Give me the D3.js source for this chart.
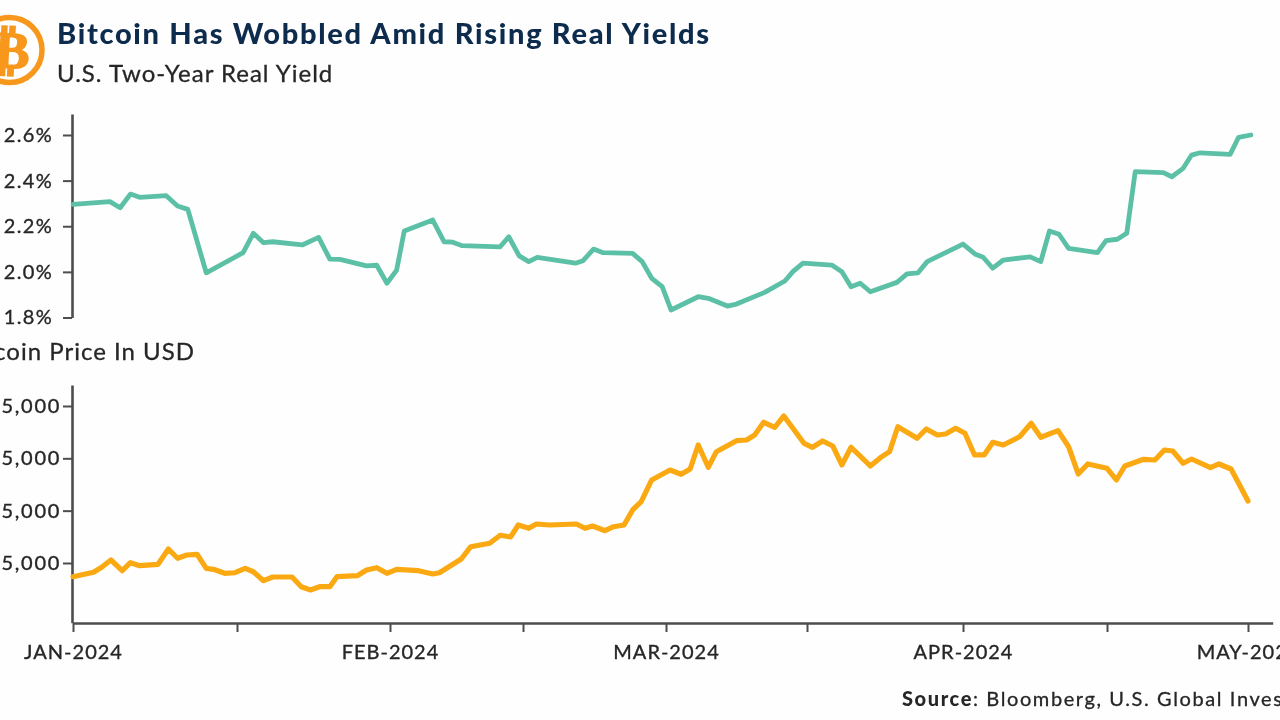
<!DOCTYPE html>
<html><head><meta charset="utf-8">
<style>
html,body{margin:0;padding:0;background:#fefefe;overflow:hidden}
svg{display:block;filter:blur(0.5px)}
text{font-family:Lato,"Open Sans",sans-serif}
</style>
<script src="https://cdn.jsdelivr.net/npm/d3@7"></script>
</head><body>
<svg id="c" width="1280" height="720"></svg>
<script>
// Days since 1 Jan 2024
const axisDays = [0,16,31,45,60,74,91,106,121];
const axisLabels = {0:"JAN-2024",31:"FEB-2024",60:"MAR-2024",91:"APR-2024",121:"MAY-2024"};
const yieldTicks = [1.8,2.0,2.2,2.4,2.6];
const btcTicks = [45000,55000,65000,75000];

const yieldDays = [0,3.6,4.6,5.6,6.5,9.1,10.2,11.2,13,16.6,17.6,18.6,19.5,22.4,24,25.1,26.1,28.7,29.7,30.7,31.7,32.5,35.5,36.7,37.6,38.6,42.6,43.5,44.6,45.6,46.5,50.5,51.3,52.4,53.4,56.5,57.5,58.5,59.6,60.5,63.2,64.2,66.1,67,69.8,71.8,72.6,73.6,76.7,77.8,78.8,79.8,80.9,83.8,84.9,86.1,87.1,91,92.3,93.1,94.1,95.2,98,99.1,100,101,102,105,105.9,107.1,108.1,109,112,112.9,114.1,115,115.9,119.1,120,121.3];
const yieldValues = [2.296,2.308,2.281,2.341,2.327,2.334,2.289,2.274,1.996,2.084,2.169,2.128,2.132,2.118,2.151,2.056,2.055,2.026,2.029,1.950,2.008,2.179,2.227,2.132,2.130,2.115,2.110,2.154,2.070,2.045,2.064,2.038,2.049,2.100,2.084,2.081,2.045,1.972,1.935,1.833,1.891,1.884,1.850,1.859,1.910,1.960,2.001,2.038,2.030,2.001,1.935,1.950,1.913,1.954,1.991,1.996,2.045,2.122,2.077,2.064,2.016,2.052,2.066,2.045,2.179,2.165,2.103,2.084,2.137,2.143,2.169,2.439,2.435,2.417,2.454,2.512,2.522,2.515,2.590,2.600];

const btcDays = [0,2,2.8,3.7,4.8,5.6,6.5,8.3,9.3,10.2,11.1,12.1,13,13.7,14.8,15.8,16.8,17.6,18.6,19.5,21.4,22.3,23.2,24.1,25.1,25.8,27.8,28.7,29.7,30.7,31.7,34,35.5,36.2,38.5,39.5,41.5,42.6,43.7,44.5,45.6,46.4,47.8,50.6,51.5,52.3,53.6,54.5,55.6,56.5,57.4,58.5,60.4,61.5,62.4,63.2,64.2,65,67,68,68.8,69.7,70.8,71.7,73.7,74.6,75.7,76.8,77.8,78.8,79.8,80.9,82,83,83.9,86,87,88.2,89.1,90.2,91.2,92.2,93.2,94.1,95.2,96.9,98.1,99.1,100.9,102,103,104,106,107,107.9,109.9,111.1,112.1,113,114.1,115,117,117.9,119.2,121];
const btcValues = [42380,43220,44180,45570,43530,45050,44480,44750,47670,45900,46530,46660,43980,43790,43030,43140,43980,43330,41620,42320,42320,40470,39840,40470,40470,42380,42570,43660,44100,43030,43790,43530,42900,43140,45760,48110,48760,50290,49970,52260,51630,52450,52260,52450,51630,52070,51170,51930,52260,55130,56710,60860,62770,61950,62960,67550,63290,66270,68370,68500,69460,71890,70930,73090,67870,67110,68310,67360,63730,67110,65440,63530,65120,66270,71040,68830,70600,69460,69650,70740,69780,65640,65640,68060,67550,69130,71690,69020,70280,67220,62010,63920,63090,60860,63530,64810,64680,66590,66400,64050,64870,63210,63920,62960,56850];

const TEAL="#5cc0a6", ORANGE="#fba912", AXIS="#4d4d4d", INK="#262626";
const svg=d3.select("#c");

const x=d3.scaleLinear().domain([...axisDays,123.6]).range([73,237,390,523,666,807,963,1107,1248,1272.7]);
const yY=d3.scaleLinear().domain([1.8,2.692]).range([317.5,114]);
const yB=d3.scaleLinear().domain([33590,79010]).range([622.7,385]);

function styleAxis(g,ls){
  g.selectAll("path.domain").attr("stroke",AXIS).attr("stroke-width",2.6);
  g.selectAll(".tick line").attr("stroke",AXIS).attr("stroke-width",2);
  g.selectAll("text").attr("fill",INK).attr("font-size",20).attr("letter-spacing",ls).attr("stroke",INK).attr("stroke-width",0.35);
}
svg.append("g").attr("transform","translate(72,0)")
  .call(d3.axisLeft(yY).tickValues(yieldTicks).tickSize(9).tickSizeOuter(0).tickPadding(10).tickFormat(d=>d.toFixed(1)+"%")).call(styleAxis,1.3);
svg.append("g").attr("transform","translate(72,0)")
  .call(d3.axisLeft(yB).tickValues(btcTicks).tickSize(9).tickSizeOuter(0).tickPadding(2).tickFormat(d=>"$"+d3.format(",")(d))).call(styleAxis,1.7);
svg.append("g").attr("transform","translate(0,623)")
  .call(d3.axisBottom(x).tickValues(axisDays).tickSize(9).tickSizeOuter(0).tickPadding(13).tickFormat(d=>axisLabels[d]||"")).call(styleAxis,1);

const line=(xs,ys,yScale)=>d3.line().x((d,i)=>x(xs[i])).y(d=>yScale(d))(ys);
svg.append("path").attr("d",line(yieldDays,yieldValues,yY)).attr("fill","none").attr("stroke",TEAL).attr("stroke-width",4.8).attr("stroke-linejoin","round").attr("stroke-linecap","round");
svg.append("path").attr("d",line(btcDays,btcValues,yB)).attr("fill","none").attr("stroke",ORANGE).attr("stroke-width",5.2).attr("stroke-linejoin","round").attr("stroke-linecap","round");

// Logo
const logo=svg.append("g").attr("transform","translate(9.5,50)");
logo.append("circle").attr("r",32.5).attr("fill","none").attr("stroke","#f7981d").attr("stroke-width",5.5);
logo.append("text").attr("transform","translate(3,0) rotate(3)").attr("text-anchor","middle").attr("y",18).attr("font-size",52).attr("font-weight",700).attr("fill","#f7981d").attr("stroke","#f7981d").attr("stroke-width",1.5).style("font-family","'DejaVu Sans'").text("\u20BF");

// Titles
svg.append("text").attr("x",57).attr("y",44).attr("font-size",29).attr("font-weight",900).attr("fill","#0c2b4d").attr("letter-spacing",1.7).text("Bitcoin Has Wobbled Amid Rising Real Yields");
svg.append("text").attr("x",57).attr("y",82).attr("font-size",24).attr("letter-spacing",1).attr("fill",INK).attr("stroke",INK).attr("stroke-width",0.3).text("U.S. Two-Year Real Yield");
svg.append("text").attr("x",195).attr("y",360).attr("text-anchor","end").attr("font-size",24).attr("letter-spacing",1).attr("fill",INK).attr("stroke",INK).attr("stroke-width",0.3).text("Bitcoin Price In USD");
const src=svg.append("text").attr("x",902).attr("y",706).attr("font-size",20).attr("letter-spacing",1.6).attr("fill",INK);
src.append("tspan").attr("font-weight",900).text("Source");
src.append("tspan").attr("stroke",INK).attr("stroke-width",0.3).text(": Bloomberg, U.S. Global Investors");
</script>
</body></html>
